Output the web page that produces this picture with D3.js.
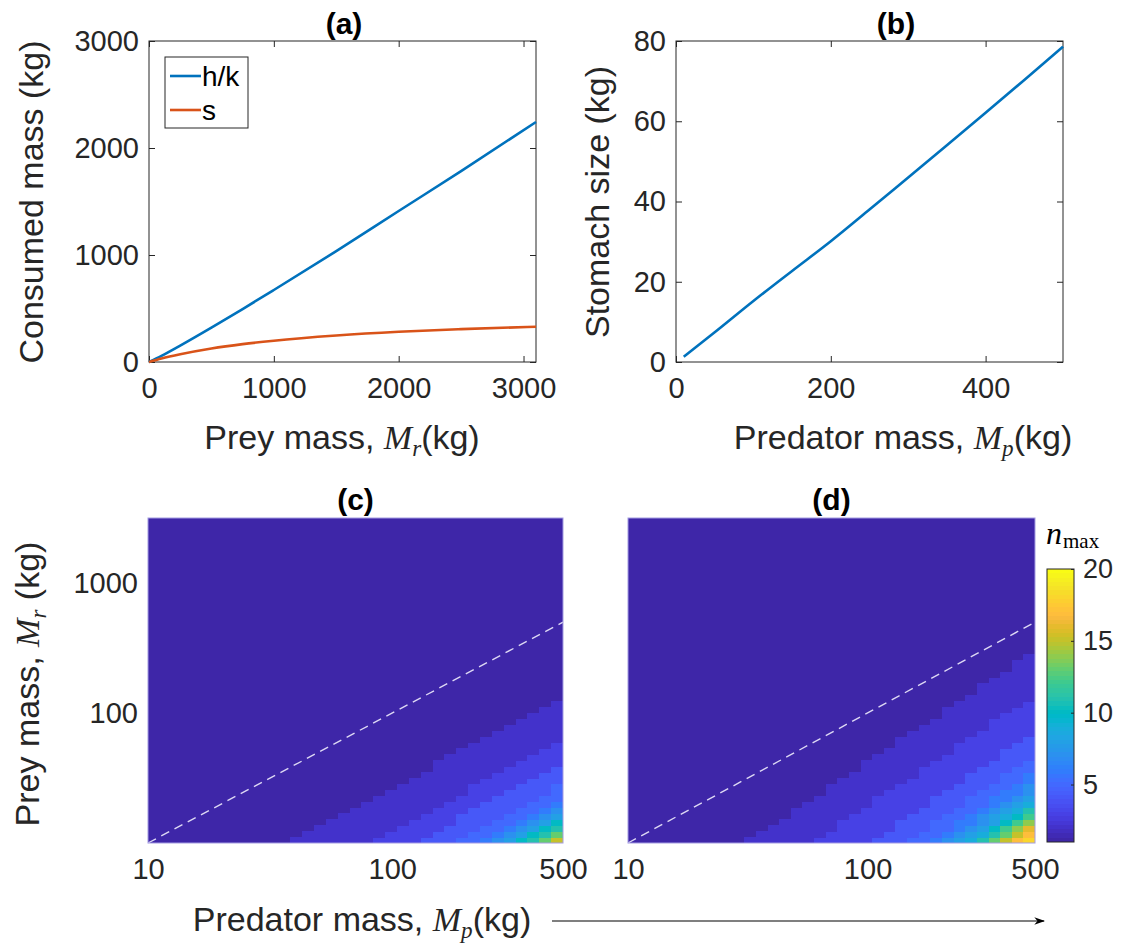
<!DOCTYPE html>
<html>
<head>
<meta charset="utf-8">
<script src="https://cdn.jsdelivr.net/npm/d3@7"></script>
<style>
  body { margin: 0; background: #fff; }
  svg { display: block; }
</style>
</head>
<body>
<svg id="fig" width="1123" height="944"></svg>
<script>
// ---- data ----
// (a) consumed mass vs prey mass
const preyMass   = [0, 100, 250, 500, 750, 1000, 1500, 2000, 2500, 3100];
const consumedHK = [0, 58, 154, 322, 495, 673, 1036, 1411, 1784, 2243];
const consumedS  = [0, 32, 72, 126, 167, 199, 247, 282, 307, 330];

// (b) stomach size vs predator mass
const predMass    = [10, 50, 100, 150, 200, 250, 300, 350, 400, 450, 500];
const stomachSize = [1.3, 7.4, 15.2, 22.7, 30.1, 38.0, 46.0, 54.0, 62.1, 70.3, 78.6];

// tick labels
const ticksAx = [0, 1000, 2000, 3000];
const ticksAy = [0, 1000, 2000, 3000];
const ticksBx = [0, 200, 400];
const ticksBy = [0, 20, 40, 60, 80];
const ticksHx = [10, 100, 500];
const ticksHy = [100, 1000];
const ticksCbar = [5, 10, 15, 20];

// (c),(d) heat-map grid: cell edges in predator mass (columns) and prey mass (rows)
const mpEdges = [10, 11.18, 12.51, 13.98, 15.64, 17.49, 19.56, 21.87, 24.45, 27.35, 30.58,
  34.20, 38.24, 42.76, 47.82, 53.47, 59.80, 66.87, 74.78, 83.62, 93.51,
  104.6, 116.9, 130.8, 146.2, 163.5, 182.9, 204.5, 228.7, 255.7, 285.9,
  319.8, 357.6, 399.9, 447.1, 500];
const mrEdges = [10, 11.10, 12.33, 13.69, 15.20, 16.88, 18.74, 20.81, 23.10, 25.65, 28.48,
  31.62, 35.11, 38.99, 43.29, 48.06, 53.37, 59.26, 65.79, 73.05, 81.11,
  90.06, 100, 111.0, 123.3, 136.9, 152.0, 168.8, 187.4, 208.1, 231.0,
  256.5, 284.8, 316.2, 351.1, 389.9, 432.9, 480.6, 533.7, 592.6, 657.9,
  730.5, 811.1, 900.6, 1000, 1110, 1233, 1369, 1520, 1688, 1874,
  2081, 2310, 2565, 2848, 3162];

// n_max per row (bottom row first): column indices where n_max steps up by one
const stepsC = [
  [12,19,23,26,28,29,30,31,31,32,33,33,34,34],
  [13,20,24,27,29,30,31,32,32,33,34,34],
  [14,21,25,28,30,31,32,33,33,34],
  [15,22,26,29,31,32,33,34,34],
  [16,23,26,30,32,33,34],
  [17,24,27,31,33,34],
  [18,25,28,32,34],
  [19,26,29,33],
  [20,27,30,34],
  [21,27,31,34],
  [22,28,32],
  [23,29,33],
  [24,30,34],
  [24,31],
  [25,32],
  [26,33],
  [27,34],
  [28],[29],[30],[31],[32],[33],[34],
  [],[],[],[],[],[],[],[],[],[],[],[],[],[],[],[],[],[],[],[],[],[],[],[],[],[],[],[],[],[],[]
];
const stepsD = [
  [10,16,21,24,26,27,28,29,30,30,31,31,32,32,33,33,34],
  [11,17,22,25,27,28,29,30,31,31,32,32,33,33,34,34],
  [12,18,23,26,28,29,30,31,31,32,32,33,33,34,34],
  [13,18,23,26,28,30,31,32,32,33,33,34,34],
  [14,19,24,27,29,30,31,32,33,34,34],
  [14,20,25,28,30,31,32,33,34,34],
  [15,21,26,29,31,32,33,34],
  [16,21,26,29,31,33,34],
  [17,22,27,30,32,34],
  [17,23,28,31,33,34],
  [18,24,29,32,34],
  [19,25,29,32,34],
  [20,25,30,33],
  [20,26,31,34],
  [21,27,32],
  [22,28,32],
  [23,28,33],
  [23,29,34],
  [24,30],
  [25,31],
  [26,31],
  [27,32],
  [27,33],
  [28,34],
  [29],[30],[30],[31],[32],[33],[33],[34],
  [],[],[],[],[],[],[],[],[],[],[],[],[],[],[],[],[],[],[],[],[],[],[]
];

// parula colormap (64 entries)
const parula = [
 [0.2422,0.1504,0.6603],[0.2504,0.1650,0.7076],[0.2578,0.1818,0.7511],[0.2647,0.1978,0.7952],
 [0.2706,0.2147,0.8364],[0.2751,0.2342,0.8710],[0.2783,0.2559,0.8991],[0.2803,0.2782,0.9221],
 [0.2813,0.3006,0.9414],[0.2810,0.3228,0.9579],[0.2795,0.3447,0.9717],[0.2760,0.3667,0.9829],
 [0.2699,0.3892,0.9906],[0.2602,0.4123,0.9952],[0.2440,0.4358,0.9988],[0.2206,0.4603,0.9973],
 [0.1963,0.4847,0.9892],[0.1834,0.5074,0.9798],[0.1786,0.5289,0.9682],[0.1764,0.5499,0.9520],
 [0.1687,0.5703,0.9359],[0.1540,0.5902,0.9218],[0.1460,0.6091,0.9079],[0.1380,0.6276,0.8973],
 [0.1248,0.6459,0.8883],[0.1113,0.6635,0.8763],[0.0952,0.6798,0.8598],[0.0689,0.6948,0.8394],
 [0.0297,0.7082,0.8163],[0.0036,0.7203,0.7917],[0.0067,0.7312,0.7660],[0.0433,0.7411,0.7394],
 [0.0964,0.7500,0.7120],[0.1408,0.7584,0.6842],[0.1717,0.7670,0.6554],[0.1938,0.7758,0.6251],
 [0.2161,0.7843,0.5923],[0.2470,0.7918,0.5567],[0.2906,0.7973,0.5188],[0.3406,0.8008,0.4789],
 [0.3909,0.8029,0.4354],[0.4456,0.8024,0.3909],[0.5044,0.7993,0.3480],[0.5616,0.7942,0.3045],
 [0.6174,0.7876,0.2612],[0.6720,0.7793,0.2227],[0.7242,0.7698,0.1910],[0.7738,0.7598,0.1646],
 [0.8203,0.7498,0.1535],[0.8634,0.7406,0.1596],[0.9035,0.7330,0.1774],[0.9393,0.7288,0.2100],
 [0.9728,0.7298,0.2394],[0.9956,0.7434,0.2371],[0.9970,0.7659,0.2199],[0.9952,0.7893,0.2028],
 [0.9892,0.8136,0.1885],[0.9786,0.8386,0.1766],[0.9676,0.8639,0.1643],[0.9610,0.8890,0.1537],
 [0.9597,0.9135,0.1423],[0.9628,0.9373,0.1265],[0.9691,0.9606,0.1064],[0.9769,0.9839,0.0805]
].map(c => d3.rgb(c[0] * 255, c[1] * 255, c[2] * 255).formatHex());

const ink = "#262626";
const sans = '"Liberation Sans", Arial, Helvetica, sans-serif';
const serif = '"Liberation Serif", "DejaVu Serif", serif';
const blue = "#0072BD", orange = "#D95319";
const tickFont = 29, labelFont = 34;

const svg = d3.select("#fig").style("font-family", sans);
const defs = svg.append("defs");

// n_max (1..20) -> colour, 64-level map like the original
const nColor = v => parula[Math.min(63, Math.floor((v - 1) / 19 * 64))];

// ---- text helpers ----
function mathLabel(x, y, rot, pre, sub, post, size) {
  const t = svg.append("text")
    .attr("transform", `translate(${x},${y}) rotate(${rot})`)
    .attr("text-anchor", "middle")
    .attr("fill", ink)
    .style("font-size", size + "px");
  t.append("tspan").text(pre);
  t.append("tspan").style("font-family", serif).style("font-style", "italic").text("M");
  t.append("tspan").style("font-family", serif).style("font-style", "italic")
    .style("font-size", (size * 0.68) + "px").attr("dy", size * 0.22).text(sub);
  t.append("tspan").attr("dy", -size * 0.22).text(post);
  return t;
}

function title(x, y, s) {
  svg.append("text").attr("x", x).attr("y", y)
    .attr("text-anchor", "middle")
    .style("font-size", "30px").style("font-weight", "bold")
    .attr("fill", "#000").text(s);
}

function styleAxis(g, size) {
  g.selectAll(".domain").remove();
  g.selectAll(".tick line").attr("stroke", ink);
  g.selectAll(".tick text").attr("fill", ink)
    .style("font-size", size + "px").style("font-family", sans);
}

// ---- line panels ----
function linePanel(box, xDom, yDom, xt, yt) {
  const x = d3.scaleLinear().domain(xDom).range([box.l, box.r]);
  const y = d3.scaleLinear().domain(yDom).range([box.b, box.t]);
  const g = svg.append("g");
  const fmt = d3.format("d");
  g.append("rect").attr("x", box.l).attr("y", box.t)
    .attr("width", box.r - box.l).attr("height", box.b - box.t)
    .attr("fill", "#fff").attr("stroke", ink).attr("stroke-width", 1);
  const ax = [
    g.append("g").attr("transform", `translate(0,${box.b})`)
      .call(d3.axisBottom(x).tickValues(xt).tickFormat(fmt).tickSize(-6).tickSizeOuter(0).tickPadding(15)),
    g.append("g").attr("transform", `translate(0,${box.t})`)
      .call(d3.axisTop(x).tickValues(xt).tickFormat("").tickSize(-6).tickSizeOuter(0)),
    g.append("g").attr("transform", `translate(${box.l},0)`)
      .call(d3.axisLeft(y).tickValues(yt).tickFormat(fmt).tickSize(-6).tickSizeOuter(0).tickPadding(10)),
    g.append("g").attr("transform", `translate(${box.r},0)`)
      .call(d3.axisRight(y).tickValues(yt).tickFormat("").tickSize(-6).tickSizeOuter(0))
  ];
  ax.forEach(a => styleAxis(a, tickFont));
  return { x, y, g };
}

// (a)
const boxA = { l: 149, r: 536, t: 41, b: 362 };
const pa = linePanel(boxA, [0, 3100], [0, 3000], ticksAx, ticksAy);
const lineA = d3.line().curve(d3.curveMonotoneX);
pa.g.append("path")
  .attr("d", lineA(preyMass.map((m, i) => [pa.x(m), pa.y(consumedHK[i])])))
  .attr("fill", "none").attr("stroke", blue).attr("stroke-width", 2.6);
pa.g.append("path")
  .attr("d", lineA(preyMass.map((m, i) => [pa.x(m), pa.y(consumedS[i])])))
  .attr("fill", "none").attr("stroke", orange).attr("stroke-width", 2.6);

// legend
const leg = pa.g.append("g");
leg.append("rect").attr("x", 165).attr("y", 57).attr("width", 83).attr("height", 71)
  .attr("fill", "#fff").attr("stroke", ink).attr("stroke-width", 1);
[["h/k", blue, 76], ["s", orange, 110]].forEach(([lab, col, yy]) => {
  leg.append("line").attr("x1", 170).attr("x2", 201).attr("y1", yy).attr("y2", yy)
    .attr("stroke", col).attr("stroke-width", 2.6);
  leg.append("text").attr("x", 202).attr("y", yy + 10).attr("fill", "#000")
    .style("font-size", "28px").text(lab);
});

title(344, 34, "(a)");
svg.append("text").attr("transform", "translate(43,202) rotate(-90)")
  .attr("text-anchor", "middle").attr("fill", ink).style("font-size", labelFont + "px")
  .text("Consumed mass (kg)");
mathLabel(342, 449, 0, "Prey mass, ", "r", "(kg)", labelFont);

// (b)
const boxB = { l: 676, r: 1063, t: 41, b: 362 };
const pb = linePanel(boxB, [0, 500], [0, 80], ticksBx, ticksBy);
pb.g.append("path")
  .attr("d", lineA(predMass.map((m, i) => [pb.x(m), pb.y(stomachSize[i])])))
  .attr("fill", "none").attr("stroke", blue).attr("stroke-width", 2.6);
title(896, 34, "(b)");
svg.append("text").attr("transform", "translate(609,202) rotate(-90)")
  .attr("text-anchor", "middle").attr("fill", ink).style("font-size", labelFont + "px")
  .text("Stomach size (kg)");
mathLabel(903, 449, 0, "Predator mass, ", "p", "(kg)", labelFont);

// ---- heat maps ----
function heatPanel(box, steps, id, showY) {
  const x = d3.scaleLog().domain([10, 500]).range([box.l, box.r]);
  const y = d3.scaleLog().domain([mrEdges[0], mrEdges[mrEdges.length - 1]]).range([box.b, box.t]);
  defs.append("clipPath").attr("id", id).append("rect")
    .attr("x", box.l).attr("y", box.t).attr("width", box.r - box.l).attr("height", box.b - box.t);
  const g = svg.append("g");
  const cells = [];
  steps.forEach((row, i) => {
    for (let j = 0; j < mpEdges.length - 1; j++) {
      cells.push({ i, j, v: 1 + row.filter(e => e <= j).length });
    }
  });
  g.append("rect").attr("x", box.l).attr("y", box.t)
    .attr("width", box.r - box.l).attr("height", box.b - box.t)
    .attr("fill", parula[0]);
  g.append("g").attr("clip-path", `url(#${id})`)
    .selectAll("rect").data(cells.filter(d => d.v > 1)).join("rect")
    .attr("x", d => x(mpEdges[d.j]))
    .attr("y", d => y(mrEdges[d.i + 1]))
    .attr("width", d => x(mpEdges[d.j + 1]) - x(mpEdges[d.j]) + 0.5)
    .attr("height", d => y(mrEdges[d.i]) - y(mrEdges[d.i + 1]) + 0.5)
    .attr("shape-rendering", "crispEdges")
    .attr("fill", d => nColor(d.v));
  // 1:1 line
  g.append("line")
    .attr("x1", x(10)).attr("y1", y(10)).attr("x2", x(500)).attr("y2", y(500))
    .attr("stroke", "#ddd8f4").attr("stroke-width", 1.4).attr("stroke-dasharray", "9,6");
  g.append("rect").attr("x", box.l).attr("y", box.t)
    .attr("width", box.r - box.l).attr("height", box.b - box.t)
    .attr("fill", "none").attr("stroke", "#a49ce2").attr("stroke-width", 1);
  const fmt = d3.format("d");
  const bx = g.append("g").attr("transform", `translate(0,${box.b})`)
    .call(d3.axisBottom(x).tickValues(ticksHx).tickFormat(fmt).tickSize(0).tickPadding(15));
  styleAxis(bx, tickFont);
  if (showY) {
    const ly = g.append("g").attr("transform", `translate(${box.l},0)`)
      .call(d3.axisLeft(y).tickValues(ticksHy).tickFormat(fmt).tickSize(0).tickPadding(10));
    styleAxis(ly, tickFont);
  }
  return { x, y, g };
}

const boxC = { l: 148, r: 563, t: 518, b: 843 };
const boxD = { l: 628, r: 1035, t: 518, b: 843 };
heatPanel(boxC, stepsC, "clipC", true);
heatPanel(boxD, stepsD, "clipD", false);
title(355.5, 510, "(c)");
title(831.5, 510, "(d)");
mathLabel(39, 684, -90, "Prey mass, ", "r", " (kg)", labelFont);

// colour bar
const cb = { l: 1047, r: 1074, t: 569, b: 842 };
const grad = defs.append("linearGradient").attr("id", "parulaGrad")
  .attr("x1", 0).attr("y1", 1).attr("x2", 0).attr("y2", 0);
parula.forEach((c, k) => {
  grad.append("stop").attr("offset", k / 64).attr("stop-color", c);
  grad.append("stop").attr("offset", (k + 1) / 64).attr("stop-color", c);
});
svg.append("rect").attr("x", cb.l).attr("y", cb.t)
  .attr("width", cb.r - cb.l).attr("height", cb.b - cb.t)
  .attr("fill", "url(#parulaGrad)").attr("stroke", ink).attr("stroke-width", 1);
const cbY = d3.scaleLinear().domain([1, 20]).range([cb.b, cb.t]);
const cbAxis = svg.append("g").attr("transform", `translate(${cb.r},0)`)
  .call(d3.axisRight(cbY).tickValues(ticksCbar).tickSize(-3).tickSizeOuter(0).tickPadding(9));
styleAxis(cbAxis, 27);
const nt = svg.append("text").attr("x", 1046).attr("y", 544).attr("fill", "#000")
  .style("font-family", serif);
nt.append("tspan").style("font-style", "italic").style("font-size", "32px").text("n");
nt.append("tspan").style("font-size", "21px").attr("dy", 4).attr("dx", 1).text("max");

// shared bottom label with arrow
defs.append("marker").attr("id", "arrowHead")
  .attr("viewBox", "0 0 10 10").attr("refX", 9).attr("refY", 5)
  .attr("markerWidth", 9).attr("markerHeight", 9).attr("orient", "auto")
  .append("path").attr("d", "M0,1.5 L10,5 L0,8.5 L3,5 Z").attr("fill", "#000");
mathLabel(362, 931, 0, "Predator mass, ", "p", "(kg)", labelFont);
svg.append("line").attr("x1", 552).attr("x2", 1044).attr("y1", 921).attr("y2", 921)
  .attr("stroke", "#000").attr("stroke-width", 1.2).attr("marker-end", "url(#arrowHead)");
</script>
</body>
</html>
